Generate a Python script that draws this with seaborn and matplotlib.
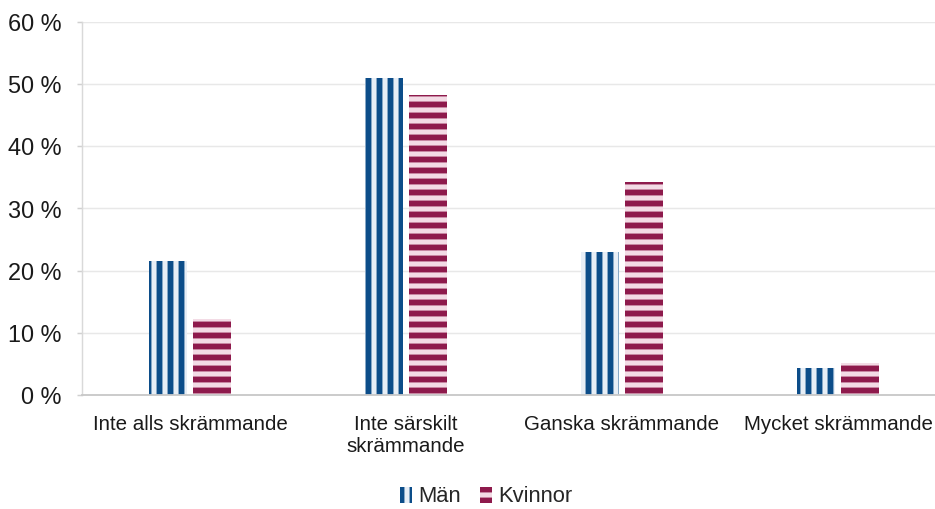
import numpy as np
import matplotlib
matplotlib.use('Agg')
import matplotlib.pyplot as plt
import pandas as pd
import seaborn as sns
from matplotlib.ticker import FuncFormatter

categories = ['Inte alls skrämmande', 'Inte särskilt\nskrämmande', 'Ganska skrämmande', 'Mycket skrämmande']
man = [21.5, 51.0, 23.0, 4.3]
kvinnor = [12.2, 48.2, 34.2, 5.1]
groups = ['Män', 'Kvinnor']

DPI = 132
sns.set_style('white')
plt.rcParams['font.family'] = ['Liberation Sans', 'DejaVu Sans']
plt.rcParams['hatch.linewidth'] = 3.2

data = pd.DataFrame({
    'kategori': categories * 2,
    'grupp': [groups[0]] * 4 + [groups[1]] * 4,
    'andel': man + kvinnor,
})

fig = plt.figure(figsize=(935 / DPI, 509 / DPI), dpi=DPI)
ax = fig.add_axes([82 / 935, 114 / 509, 864 / 935, 373 / 509])

face = {'Män': '#e7eef6', 'Kvinnor': '#f3dbe5'}
stripe = {'Män': '#0c4d89', 'Kvinnor': '#8e1a4c'}
hatch = {'Män': '||', 'Kvinnor': '--'}

sns.barplot(data=data, x='kategori', y='andel', hue='grupp', order=categories,
            hue_order=groups, palette=face, width=0.4, gap=0.12, ax=ax,
            saturation=1, legend=False)

for cont, g in zip(ax.containers, groups):
    for p in cont:
        p.set_hatch(hatch[g])
        p.set_edgecolor(stripe[g])
        p.set_linewidth(0)

ax.set_ylim(0, 60)
ax.set_xlim(-0.5, 3.5)
ax.set_yticks(np.arange(0, 61, 10))
ax.yaxis.set_major_formatter(FuncFormatter(lambda v, _: f'{v:.0f} %'))
ax.grid(axis='y', color='#e8e8e8', linewidth=0.8)
ax.set_axisbelow(True)
ax.set_xlabel('')
ax.set_ylabel('')

ax.set_xticks(range(4))
ax.set_xticklabels(categories)
ax.set_xticks([-0.5, 0.5, 1.5, 2.5], minor=True)
ax.tick_params(axis='x', which='major', length=0, pad=11, labelsize=11.2, colors='#1a1a1a')
ax.tick_params(axis='x', which='minor', length=4, width=0.8, color='#c8c8c8', direction='out')
ax.tick_params(axis='y', length=3, width=0.8, color='#d0d0d0', labelsize=12.8,
               labelcolor='#1a1a1a', left=True, pad=8)

for s in ['top', 'right']:
    ax.spines[s].set_visible(False)
ax.spines['left'].set_color('#d9d9d9')
ax.spines['left'].set_linewidth(0.8)
ax.spines['bottom'].set_color('#c8c8c8')
ax.spines['bottom'].set_linewidth(1.0)

handles = [cont[0] for cont in ax.containers]
fig.legend(handles, groups, loc='center', bbox_to_anchor=(0.52, 12 / 509), ncol=2,
           frameon=False, fontsize=12, handlelength=0.55, handleheight=0.75,
           handletextpad=0.25, columnspacing=0.9, borderpad=0.1)

fig.savefig('out.png', dpi=DPI)
